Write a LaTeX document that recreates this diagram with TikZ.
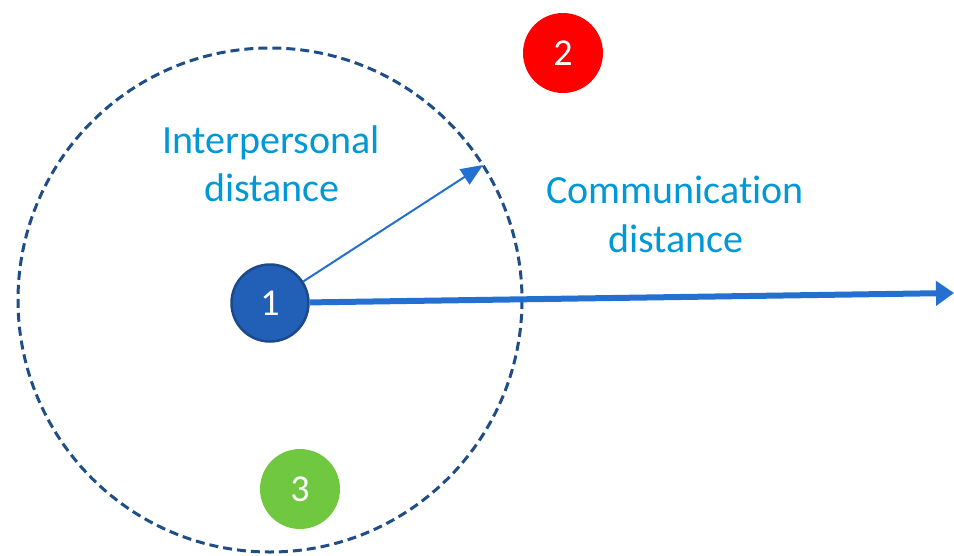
\documentclass[tikz,border=0pt]{standalone}
\usepackage{fontspec}
\setmainfont{Carlito}[Ligatures=NoCommon]
\usetikzlibrary{arrows.meta}
\definecolor{lblblue}{RGB}{0,152,214}
\definecolor{dashblue}{RGB}{31,78,135}
\definecolor{nodeblue}{RGB}{33,96,182}
\definecolor{nodeblueline}{RGB}{28,72,140}
\definecolor{arrowblue}{RGB}{36,112,208}
\definecolor{nodered}{RGB}{255,0,0}
\definecolor{nodegreen}{RGB}{112,200,64}
\tikzset{
  person/.style={circle, minimum size=80pt, inner sep=0pt, text=white,
    font=\fontsize{38}{42}\selectfont},
  lbl/.style={text=lblblue, inner sep=0pt, anchor=base,
    font=\fontsize{40}{48}\selectfont},
  zone/.style={draw=dashblue, line width=3pt, dash pattern=on 9pt off 5pt},
  thinarrow/.style={draw=arrowblue, line width=2pt,
    -{Triangle[length=22pt,width=18pt]}},
  thickarrow/.style={draw=arrowblue, line width=6pt,
    -{Triangle[length=18pt,width=24pt]}}
}
\begin{document}
\begin{tikzpicture}[x=1pt,y=-1pt]
\useasboundingbox[fill=white] (0,0) rectangle (954,555);
% dashed interpersonal zone
\draw[zone] (270,300) circle[radius=252];
% persons
\node[person, fill=nodeblue, draw=nodeblueline, line width=2.5pt, minimum size=77pt] (n1) at (270,303) {1};
\node[person, fill=nodered] (n2) at (563,53) {2};
\node[person, fill=nodegreen] (n3) at (300,489) {3};
% arrow end points
\coordinate (ipend) at (483,165);
\coordinate (commend) at (954,293);
\draw[thinarrow] (n1) -- (ipend);
\draw[thickarrow] (n1) -- (commend);
% labels
\node[lbl] (ip1) at (271,153) {Interpersonal};
\node[lbl] (ip2) at (272,201) {distance};
\node[lbl] (cd1) at (675,203) {Communication};
\node[lbl] (cd2) at (676,252) {distance};
\end{tikzpicture}
\end{document}
